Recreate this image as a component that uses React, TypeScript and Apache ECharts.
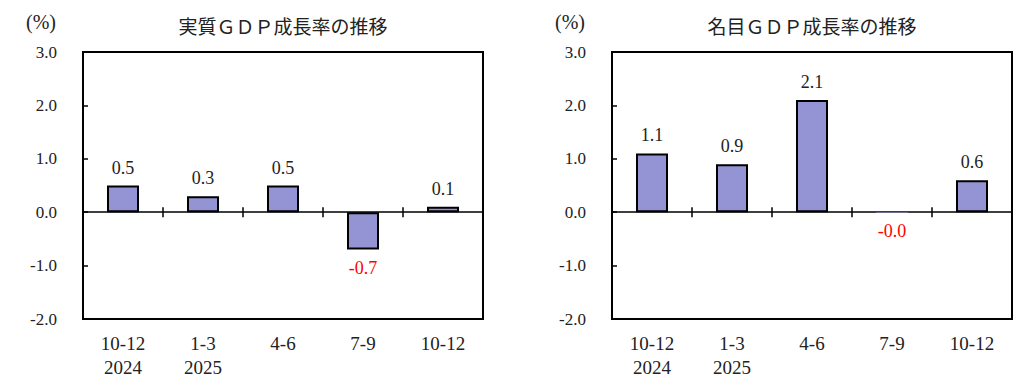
import React, { useEffect, useRef } from 'react';
import * as echarts from 'echarts';

const categories = ['10-12\n2024', '1-3\n2025', '4-6', '7-9', '10-12'];
const realGrowth = [0.5, 0.3, 0.5, -0.7, 0.1];
const nominalGrowth = [1.1, 0.9, 2.1, -0.01, 0.6];
const chartTitles = ['実質ＧＤＰ成長率の推移', '名目ＧＤＰ成長率の推移'];
const unitLabel = '(%)';
const yMin = -2;
const yMax = 3;
const yInterval = 1;

const NUM_FONT = "'Liberation Serif', 'DejaVu Serif', 'Noto Sans CJK JP', serif";
const TITLE_FONT = "'Liberation Serif', 'Noto Sans CJK JP', serif";
const TEXT = '#222';
const BAR = '#9494d4';

export default function App() {
  const ref = useRef<HTMLDivElement>(null);
  useEffect(() => {
    if (!ref.current) return;
    const chart = echarts.init(ref.current, null, { renderer: 'svg' });
    const gridLefts = [83, 612];
    const gridTop = 52;
    const gridW = 400;
    const gridH = 267;
    const zeroOffset = (gridH * (yMax - 0)) / (yMax - yMin);
    const seriesData = [realGrowth, nominalGrowth];

    const grids: any[] = [];
    const xAxes: any[] = [];
    const yAxes: any[] = [];
    const series: any[] = [];
    const graphics: any[] = [];

    gridLefts.forEach((left, gi) => {
      grids.push({
        left,
        top: gridTop,
        width: gridW,
        height: gridH,
        show: true,
        borderColor: '#000',
        borderWidth: 2,
        backgroundColor: 'transparent',
      });
      xAxes.push({
        type: 'category',
        gridIndex: gi,
        data: categories,
        axisLine: { show: true, onZero: true, lineStyle: { color: '#000', width: 1.5 } },
        axisTick: { show: true, length: 5, interval: 0, lineStyle: { color: '#000', width: 1.5 } },
        axisLabel: { show: false },
        splitLine: { show: false },
      });
      xAxes.push({
        type: 'category',
        gridIndex: gi,
        data: categories,
        position: 'top',
        offset: -zeroOffset,
        axisLine: { show: false, onZero: false },
        axisTick: { show: true, length: 5, interval: 0, lineStyle: { color: '#000', width: 1.5 } },
        axisLabel: { show: false },
        splitLine: { show: false },
      });
      xAxes.push({
        type: 'category',
        gridIndex: gi,
        data: categories,
        position: 'bottom',
        axisLine: { show: false, onZero: false },
        axisTick: { show: false },
        axisLabel: {
          show: true,
          interval: 0,
          margin: 12,
          fontSize: 19,
          lineHeight: 24,
          color: TEXT,
          fontFamily: NUM_FONT,
        },
        splitLine: { show: false },
      });
      yAxes.push({
        type: 'value',
        gridIndex: gi,
        min: yMin,
        max: yMax,
        interval: yInterval,
        axisLine: { show: true, lineStyle: { color: '#000', width: 2 } },
        axisTick: { show: true, inside: true, length: 5, lineStyle: { color: '#000', width: 1.5 } },
        axisLabel: {
          margin: 26,
          fontSize: 17,
          color: TEXT,
          fontFamily: NUM_FONT,
          formatter: (v: number) => v.toFixed(1),
        },
        splitLine: { show: false },
      });
      series.push({
        type: 'bar',
        xAxisIndex: gi * 3,
        yAxisIndex: gi,
        barWidth: 32,
        itemStyle: { color: BAR, borderColor: '#000', borderWidth: 2 },
        data: seriesData[gi].map((v) => ({
          value: v,
          itemStyle: Math.abs(v) < 0.05 ? { borderWidth: 0 } : undefined,
          label: {
            show: true,
            position: v < 0 ? 'bottom' : 'top',
            distance: 9,
            color: v < 0 ? '#ff0000' : TEXT,
            fontSize: 18,
            fontFamily: NUM_FONT,
            formatter: () => v.toFixed(1),
          },
        })),
      });
      graphics.push({
        type: 'text',
        x: left + gridW / 2,
        y: 27,
        style: {
          text: chartTitles[gi],
          fontSize: 19,
          fontFamily: TITLE_FONT,
          fill: TEXT,
          textAlign: 'center',
          textVerticalAlign: 'middle',
        },
      });
      graphics.push({
        type: 'text',
        x: left - 42,
        y: 22,
        style: {
          text: unitLabel,
          fontSize: 20,
          fontFamily: NUM_FONT,
          fill: TEXT,
          textAlign: 'center',
          textVerticalAlign: 'middle',
        },
      });
    });

    chart.setOption({
      animation: false,
      backgroundColor: '#fff',
      grid: grids,
      xAxis: xAxes,
      yAxis: yAxes,
      series,
      graphic: graphics,
    });
    return () => chart.dispose();
  }, []);
  return (
    <div
      ref={ref}
      style={{ position: 'absolute', left: 0, top: 0, width: 1023, height: 386 }}
    />
  );
}
